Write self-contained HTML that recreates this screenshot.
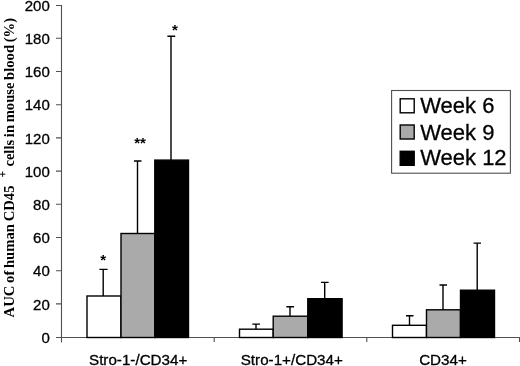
<!DOCTYPE html>
<html><head><meta charset="utf-8">
<style>
html,body{margin:0;padding:0;background:#fff;}
body{width:520px;height:366px;overflow:hidden;}
svg{display:block;will-change:transform;}
text{font-family:"Liberation Sans",sans-serif;fill:#000;stroke:#000;stroke-width:0.3px;}
.t{font-size:15px;text-anchor:end;}
.c{font-size:15.2px;text-anchor:middle;}
.l{font-size:22px;}
.y text{stroke:none;font-family:"Liberation Serif",serif;font-weight:bold;font-size:14px;}
.s{font-size:15px;font-weight:bold;text-anchor:middle;}
.s text{stroke:none;}
</style></head><body>
<svg width="520" height="366" viewBox="0 0 520 366">
<rect width="520" height="366" fill="#fff"/>
<!-- axes -->
<g stroke="#505050" stroke-width="1.1" fill="none">
<path d="M61.5 5V342.5M56 337.5H520"/>
<path d="M56 5.5H61.5 M56 38.3H61.5 M56 71.5H61.5 M56 104.7H61.5 M56 137.9H61.5 M56 171.1H61.5 M56 204.3H61.5 M56 237.5H61.5 M56 270.7H61.5 M56 303.9H61.5 M56 337.5H61.5"/>
<path d="M214.2 337.5V342M366.8 337.5V342M519.5 337.5V342"/>
</g>
<!-- tick labels -->
<g class="t">
<text x="49.8" y="10.8">200</text>
<text x="49.8" y="44.0">180</text>
<text x="49.8" y="77.2">160</text>
<text x="49.8" y="110.4">140</text>
<text x="49.8" y="143.6">120</text>
<text x="49.8" y="176.8">100</text>
<text x="49.8" y="210.0">80</text>
<text x="49.8" y="243.2">60</text>
<text x="49.8" y="276.4">40</text>
<text x="49.8" y="309.6">20</text>
<text x="49.8" y="342.8">0</text>
</g>
<!-- error bars -->
<g stroke="#000" stroke-width="1.4" fill="none">
<path d="M103.2 296V269.4M99.4 269.4H107.6"/>
<path d="M137.5 233V161M134 161H141.5"/>
<path d="M171 160V36.3M167.4 36.3H175.2"/>
<path d="M256 329V324.1M252.3 324.1H260"/>
<path d="M290 316V306.8M286.3 306.8H294"/>
<path d="M324.7 298V282.4M321 282.4H328.6"/>
<path d="M409.5 325V315.8M406 315.8H413.5"/>
<path d="M443 310V285M439.5 285H447"/>
<path d="M477.2 290V243.1M473.5 243.1H481"/>
</g>
<!-- bars -->
<g stroke="#000" stroke-width="1.4">
<rect x="87" y="296" width="34" height="41.5" fill="#fff"/>
<rect x="121" y="233.5" width="34" height="104" fill="#aaa"/>
<rect x="154.8" y="160.1" width="33.7" height="177.4" fill="#000"/>
<rect x="239.5" y="329.2" width="33.7" height="8.3" fill="#fff"/>
<rect x="273.2" y="316.2" width="34.5" height="21.3" fill="#aaa"/>
<rect x="307.8" y="298.7" width="34.3" height="38.8" fill="#000"/>
<rect x="392.5" y="325.3" width="34" height="12.2" fill="#fff"/>
<rect x="426.5" y="309.8" width="34" height="27.7" fill="#aaa"/>
<rect x="460.5" y="290.2" width="34" height="47.3" fill="#000"/>
</g>
<!-- stars -->
<g class="s">
<text x="103.1" y="264.5">*</text>
<text x="140" y="147.5">**</text>
<text x="175" y="35.4">*</text>
</g>
<!-- category labels -->
<g class="c">
<text x="138.2" y="364.8">Stro-1-/CD34+</text>
<text x="291.8" y="364.8">Stro-1+/CD34+</text>
<text x="443" y="364.8">CD34+</text>
</g>
<!-- legend -->
<rect x="391.6" y="90.5" width="118.8" height="82.7" fill="#fff" stroke="#505050" stroke-width="1.1"/>
<g stroke="#000" stroke-width="1.4">
<rect x="400.2" y="98.8" width="14" height="14" fill="#fff"/>
<rect x="400.2" y="125" width="14" height="14" fill="#aaa"/>
<rect x="400.2" y="151.3" width="14" height="14" fill="#000"/>
</g>
<g class="l">
<text x="420.2" y="113.4">Week 6</text>
<text x="420.2" y="139.5">Week 9</text>
<text x="420.2" y="165.2">Week 12</text>
</g>
<!-- y title -->
<g class="y">
<text transform="translate(14.3 317.4) rotate(-90)" style="font-size:14.68px;word-spacing:-1px">AUC of human CD45</text>
<path d="M0 174.2H5.3M2.6 171.5V176.9" stroke="#111" stroke-width="1" fill="none"/>
<text transform="translate(14.3 166.6) rotate(-90)" style="font-size:14.62px;word-spacing:-1px">cells in mouse blood (%)</text>
</g>
</svg>
</body></html>
